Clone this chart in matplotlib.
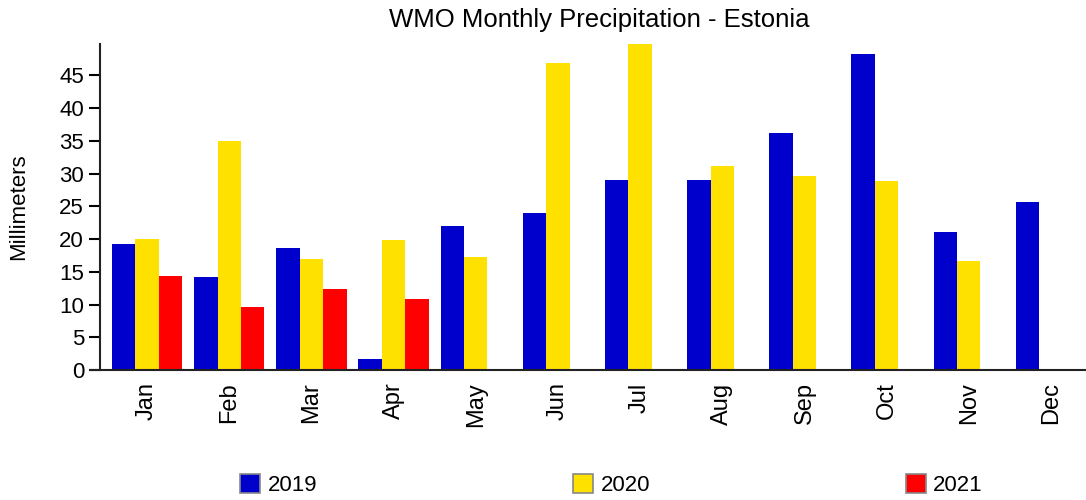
import numpy as np
import matplotlib
matplotlib.use('agg')
import matplotlib.pyplot as plt
from matplotlib.patches import Patch

plt.rcParams['font.family'] = ['Liberation Sans', 'DejaVu Sans']

months = ['Jan', 'Feb', 'Mar', 'Apr', 'May', 'Jun',
          'Jul', 'Aug', 'Sep', 'Oct', 'Nov', 'Dec']
years = ['2019', '2020', '2021']
p2019 = [19.2, 14.2, 18.6, 1.7, 22.0, 24.0, 29.1, 29.1, 36.2, 48.3, 21.1, 25.6]
p2020 = [20.0, 35.0, 17.0, 19.8, 17.2, 46.9, 49.8, 31.1, 29.6, 28.8, 16.7, np.nan]
p2021 = [14.4, 9.6, 12.4, 10.8, np.nan, np.nan, np.nan, np.nan, np.nan,
         np.nan, np.nan, np.nan]
colors = ['#0000cc', '#ffe100', '#ff0000']

fig = plt.figure(figsize=(10.86, 5.0), dpi=100)
ax = fig.add_axes([100 / 1086, 130 / 500, 986 / 1086, 326 / 500])

x = np.arange(len(months))
w = 0.285
for k, (vals, col) in enumerate(zip([p2019, p2020, p2021], colors)):
    ax.bar(x + (k - 1) * w, vals, width=w, color=col, linewidth=0)

ax.set_xlim(-0.573, 11.427)
ax.set_ylim(0, 49.8)
ax.set_yticks(np.arange(0, 50, 5))
ax.set_xticks(x)
ax.set_xticklabels(months, rotation=90, fontsize=17)
ax.tick_params(axis='x', length=0, pad=9)
ax.tick_params(axis='y', labelsize=16, length=8, width=1.5, direction='out')
ax.spines['top'].set_visible(False)
ax.spines['right'].set_visible(False)
for s in ['left', 'bottom']:
    ax.spines[s].set_linewidth(1.5)
    ax.spines[s].set_color('#222222')
ax.spines['bottom'].set_bounds(-0.7, 11.427)
ax.set_ylabel('Millimeters', fontsize=16)
ax.yaxis.set_label_coords(-0.072, 0.5)

fig.text(0.552, 0.96, 'WMO Monthly Precipitation - Estonia', ha='center',
         va='center', fontsize=18.5)

handles = [Patch(facecolor=c, edgecolor='#888888', linewidth=1.2) for c in colors]
fig.legend(handles, years, loc='center', bbox_to_anchor=(0.563, 0.03),
           ncol=3, frameon=False, fontsize=16, handlelength=0.9,
           handleheight=0.9, handletextpad=0.35, columnspacing=11.5)

fig.savefig('out.png', dpi=100)
